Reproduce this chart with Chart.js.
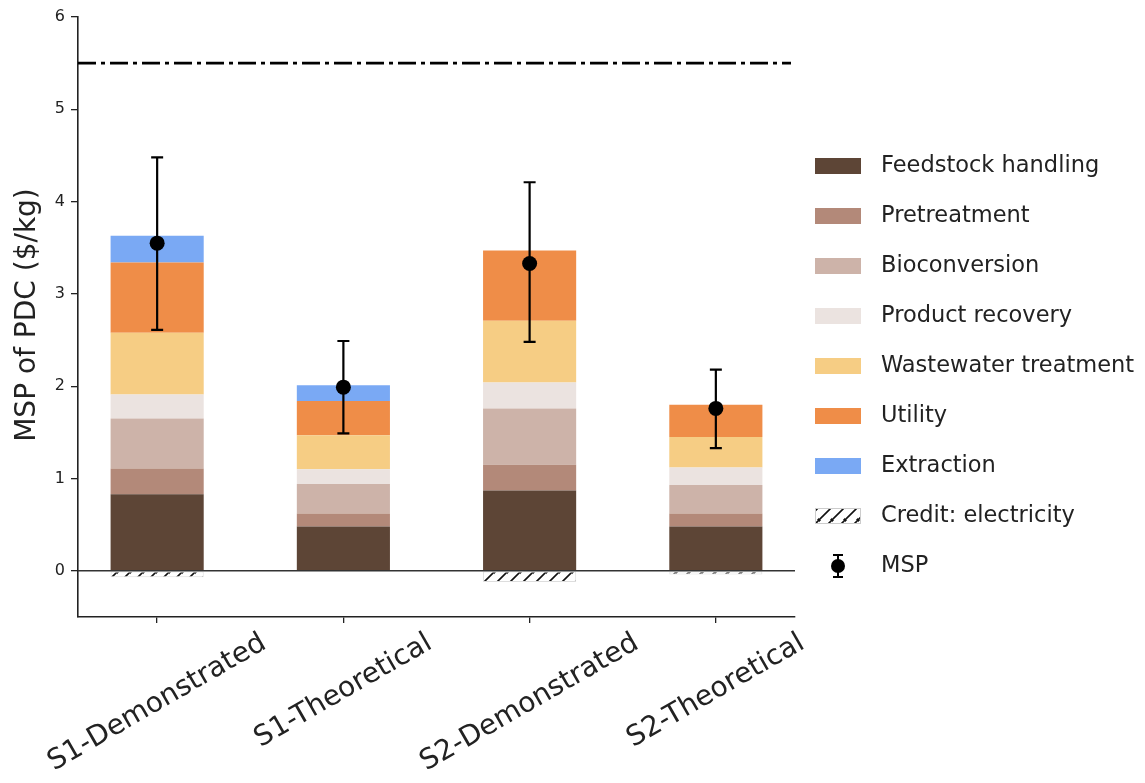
<!DOCTYPE html>
<html>
<head>
<meta charset="utf-8">
<script src="https://cdn.jsdelivr.net/npm/chart.js@4"></script>
<style>
  html, body { margin: 0; padding: 0; background: #fff; }
  #wrap { width: 1145px; height: 783px; }
</style>
</head>
<body>
<div id="wrap"><canvas id="mspChart" width="1145" height="783"></canvas></div>
<script>
// MSP breakdown per scenario ($/kg)
const categories = ['S1-Demonstrated', 'S1-Theoretical', 'S2-Demonstrated', 'S2-Theoretical'];
const feedstock = [0.83, 0.48, 0.87, 0.48];
const pretreatment = [0.28, 0.14, 0.28, 0.14];
const bioconversion = [0.54, 0.32, 0.61, 0.31];
const productRecovery = [0.26, 0.16, 0.28, 0.19];
const wastewater = [0.67, 0.37, 0.67, 0.33];
const utility = [0.76, 0.37, 0.76, 0.35];
const extraction = [0.29, 0.17, 0, 0];
const creditElectricity = [-0.07, 0, -0.12, -0.04];
const mspValue = [3.55, 1.99, 3.33, 1.76];
const mspLow = [2.61, 1.49, 2.48, 1.33];
const mspHigh = [4.48, 2.49, 4.21, 2.18];
const targetPrice = 5.5;
const yTicks = [0, 1, 2, 3, 4, 5, 6];

const FONT = "'DejaVu Sans', sans-serif";

// hatch pattern for the electricity credit
function makeHatch() {
    const c = document.createElement('canvas');
    c.width = 13; c.height = 13;
    const g = c.getContext('2d');
    g.fillStyle = '#fff';
    g.fillRect(0, 0, 13, 13);
    g.strokeStyle = '#111';
    g.lineWidth = 1.6;
    g.beginPath();
    g.moveTo(-2, 15); g.lineTo(15, -2);
    g.moveTo(-8, 9); g.lineTo(9, -8);
    g.moveTo(4, 21); g.lineTo(21, 4);
    g.stroke();
    return g.createPattern(c, 'repeat');
}
const hatch = makeHatch();

function barSet(label, values, color) {
    return {type: 'bar', label: label, data: values, backgroundColor: color,
            borderWidth: 0, stack: 'cost', order: 1};
}

const datasets = [
    {type: 'line', label: 'MSP', data: mspValue, showLine: false, order: 0,
     pointRadius: 7.5, pointBackgroundColor: '#000', pointBorderWidth: 0},
    barSet('Feedstock handling', feedstock, '#5d4536'),
    barSet('Pretreatment', pretreatment, '#b38979'),
    barSet('Bioconversion', bioconversion, '#cdb3a9'),
    barSet('Product recovery', productRecovery, '#ebe3e0'),
    barSet('Wastewater treatment', wastewater, '#f6cd84'),
    barSet('Utility', utility, '#ef8d48'),
    barSet('Extraction', extraction, '#7aa9f4'),
    {type: 'bar', label: 'Credit: electricity', data: creditElectricity, backgroundColor: hatch,
     borderColor: '#ddd', borderWidth: 1, borderSkipped: false, stack: 'cost', order: 1}
];

const extras = {
    id: 'extras',
    beforeDatasetDraw(chart, args) {
        if (args.index !== 0) return;
        const ctx = chart.ctx, x = chart.scales.x, y = chart.scales.y;
        ctx.save();
        ctx.strokeStyle = '#000';
        ctx.lineWidth = 2.2;
        mspValue.forEach((v, i) => {
            const px = x.getPixelForValue(i);
            const top = y.getPixelForValue(mspHigh[i]);
            const bot = y.getPixelForValue(mspLow[i]);
            ctx.beginPath();
            ctx.moveTo(px, top); ctx.lineTo(px, bot);
            ctx.moveTo(px - 6, top); ctx.lineTo(px + 6, top);
            ctx.moveTo(px - 6, bot); ctx.lineTo(px + 6, bot);
            ctx.stroke();
        });
        ctx.restore();
    },
    afterDatasetsDraw(chart) {
        const ctx = chart.ctx, a = chart.chartArea, y = chart.scales.y;
        ctx.save();
        // zero line
        const y0 = y.getPixelForValue(0);
        ctx.strokeStyle = '#333';
        ctx.lineWidth = 1.5;
        ctx.beginPath(); ctx.moveTo(a.left, y0); ctx.lineTo(a.right, y0); ctx.stroke();
        // target price, dash-dot
        const yt = y.getPixelForValue(targetPrice);
        ctx.strokeStyle = '#000';
        ctx.lineWidth = 2.6;
        ctx.setLineDash([18, 5, 4, 5]);
        ctx.beginPath(); ctx.moveTo(a.left, yt); ctx.lineTo(a.right - 4, yt); ctx.stroke();
        ctx.restore();
    },
    afterDraw(chart) {
        const ctx = chart.ctx, a = chart.chartArea, x = chart.scales.x;
        ctx.save();
        ctx.fillStyle = '#222';

        // y title
        ctx.font = '28px ' + FONT;
        ctx.textAlign = 'center';
        ctx.textBaseline = 'middle';
        ctx.save();
        ctx.translate(28, 315);
        ctx.rotate(-Math.PI / 2);
        ctx.fillText('MSP of PDC ($/kg)', 0, 0);
        ctx.restore();

        // rotated category labels, centred under their tick
        const ang = Math.PI / 6;
        categories.forEach((c, i) => {
            const L = ctx.measureText(c).width;
            const h = 28;
            const boxH = L * Math.sin(ang) + h * Math.cos(ang);
            const cx = x.getPixelForValue(i);
            const cy = a.bottom + 12 + boxH / 2;
            ctx.save();
            ctx.translate(cx, cy);
            ctx.rotate(-ang);
            ctx.fillText(c, 0, 0);
            ctx.restore();
        });

        // legend
        ctx.font = '22.5px ' + FONT;
        ctx.textAlign = 'left';
        const lx = 815, tx = 881, step = 50;
        let ly = 166;
        chart.data.datasets.slice(1).forEach(ds => {
            ctx.fillStyle = ds.backgroundColor;
            ctx.fillRect(lx, ly - 8, 46, 16);
            if (ds.borderWidth) {
                ctx.strokeStyle = '#ccc';
                ctx.lineWidth = 1;
                ctx.strokeRect(lx + 0.5, ly - 7.5, 45, 15);
            }
            ctx.fillStyle = '#222';
            ctx.fillText(ds.label, tx, ly);
            ly += step;
        });
        // MSP marker with error bar
        const mx = lx + 23;
        ctx.strokeStyle = '#000';
        ctx.lineWidth = 2;
        ctx.beginPath();
        ctx.moveTo(mx, ly - 11); ctx.lineTo(mx, ly + 11);
        ctx.moveTo(mx - 5, ly - 11); ctx.lineTo(mx + 5, ly - 11);
        ctx.moveTo(mx - 5, ly + 11); ctx.lineTo(mx + 5, ly + 11);
        ctx.stroke();
        ctx.fillStyle = '#000';
        ctx.beginPath(); ctx.arc(mx, ly, 7, 0, Math.PI * 2); ctx.fill();
        ctx.fillStyle = '#222';
        ctx.fillText(chart.data.datasets[0].label, tx, ly);
        ctx.restore();
    }
};

const ctx = document.getElementById('mspChart').getContext('2d');
const mspChart = new Chart(ctx, {
    data: {
        labels: categories.map((c, i) => i),
        datasets: datasets
    },
    options: {
        responsive: false,
        animation: false,
        layout: {padding: {top: 17, right: 350, left: 0, bottom: 0}},
        datasets: {bar: {barPercentage: 0.5, categoryPercentage: 1}},
        plugins: {legend: {display: false}, tooltip: {enabled: false}},
        scales: {
            x: {
                type: 'linear', min: -0.425, max: 3.425, stacked: true, offset: false,
                afterBuildTicks: s => { s.ticks = categories.map((c, i) => ({value: i})); },
                afterFit: s => { s.height = 166; },
                ticks: {display: false},
                grid: {offset: false, drawOnChartArea: false, drawTicks: true, tickLength: 6, color: '#222', lineWidth: 1.3},
                border: {color: '#222', width: 1.6}
            },
            y: {
                min: -0.5, max: 6, stacked: true,
                afterBuildTicks: s => { s.ticks = yTicks.map(v => ({value: v})); },
                afterFit: s => { s.width = 78; },
                ticks: {color: '#222', padding: 6, font: {family: FONT, size: 16}},
                grid: {drawOnChartArea: false, drawTicks: true, tickLength: 7, color: '#222', lineWidth: 1.3},
                border: {color: '#222', width: 1.6}
            }
        }
    },
    plugins: [extras]
});
</script>
</body>
</html>
